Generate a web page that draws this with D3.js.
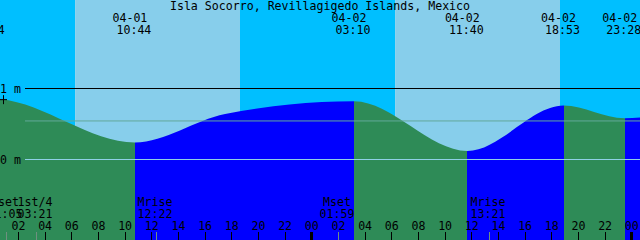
<!DOCTYPE html>
<meta charset="utf-8">

<!-- Load d3.js -->
<script src="https://d3js.org/d3.v7.min.js"></script>

<style>
    body { margin: 0; background: #fff; }
    text {
        font-family: "DejaVu Sans Mono", monospace;
        font-size: 11.6px;
        fill: #000;
    }
</style>

<svg id="tide" width="640" height="240"></svg>

<script>
    // Chart window
    var title = "Isla Socorro, Revillagigedo Islands, Mexico";
    var windowStart = "04-01 00:37",
        windowEnd = "04-03 00:37";

    // High and low tides
    var extremeTimes = ["03-31 23:44", "04-01 10:44", "04-02 03:10", "04-02 11:40", "04-02 18:53", "04-02 23:28"];
    var extremeHeights = [0.86, 0.24, 0.82, 0.12, 0.76, 0.58];
    var extremeTypes = ["high", "low", "high", "low", "high", "low"];

    // Water level read between the extremes (m)
    var levelTimes = ["04-01 00:37", "04-01 17:30", "04-03 00:37"];
    var levelHeights = [0.85, 0.64, 0.59];

    // Sunrise / sunset
    var sunTimes = ["04-01 06:15", "04-01 18:37", "04-02 06:15", "04-02 18:37"];

    // Moon events
    var moonNames = ["Mset", "1st/4", "Mrise", "Mset", "Mrise"];
    var moonTimes = ["04-01 01:05", "04-01 03:21", "04-01 12:22", "04-02 01:59", "04-02 13:21"];

    // Reference levels (m)
    var meanLevel = 0.55;
    var gridLevels = [1, 0];

    var nightColor = "#00bfff",
        dayColor = "#87ceeb",
        floodColor = "#0000ff",
        ebbColor = "#2e8b57";

    var width = 640,
        height = 240;

    var parse = d3.utcParse("%m-%d %H:%M");

    var svg = d3.select("#tide");

    var x = d3.scaleUtc()
        .domain([parse(windowStart), parse(windowEnd)])
        .range([0, width]);

    var y = d3.scaleLinear()
        .domain([0, 1])
        .range([159.5, 88.5]);

    // Sky: night / day bands
    var skyEdges = [parse(windowStart)].concat(sunTimes.map(parse), [parse(windowEnd)]);
    svg.append("g")
        .selectAll("rect")
        .data(d3.pairs(skyEdges))
        .enter().append("rect")
        .attr("x", function(d) { return x(d[0]); })
        .attr("width", function(d) { return x(d[1]) - x(d[0]); })
        .attr("y", 0)
        .attr("height", height)
        .attr("fill", function(d, i) { return i % 2 ? dayColor : nightColor; });

    // Water level curve
    var extremes = extremeTimes.map(function(t, i) {
        return { t: parse(t), h: extremeHeights[i], type: extremeTypes[i] };
    });
    var points = extremes.map(function(d) { return { t: d.t, h: d.h }; })
        .concat(levelTimes.map(function(t, i) { return { t: parse(t), h: levelHeights[i] }; }))
        .sort(function(a, b) { return a.t - b.t; });

    var area = d3.area()
        .curve(d3.curveMonotoneX)
        .x(function(d) { return x(d.t); })
        .y0(height)
        .y1(function(d) { return y(d.h); });

    svg.append("clipPath")
        .attr("id", "water")
        .append("path")
        .attr("d", area(points));

    // flood (rising) after a low, ebb (falling) after a high
    var waterEdges = extremes.concat([{ t: parse(windowEnd) }]);
    svg.append("g")
        .attr("clip-path", "url(#water)")
        .selectAll("rect")
        .data(d3.pairs(waterEdges))
        .enter().append("rect")
        .attr("x", function(d) { return x(d[0].t); })
        .attr("width", function(d) { return x(d[1].t) - x(d[0].t); })
        .attr("y", 0)
        .attr("height", height)
        .attr("fill", function(d) { return d[0].type == "high" ? ebbColor : floodColor; })
        .attr("shape-rendering", "crispEdges");

    // Level lines
    svg.append("line")
        .attr("x1", 25).attr("x2", width)
        .attr("y1", y(meanLevel) + 0.5).attr("y2", y(meanLevel) + 0.5)
        .attr("stroke", "#62a89a");

    svg.selectAll(".grid")
        .data(gridLevels)
        .enter().append("line")
        .attr("class", "grid")
        .attr("x1", 25).attr("x2", width)
        .attr("y1", function(d) { return y(d); })
        .attr("y2", function(d) { return y(d); })
        .attr("stroke", function(d) { return d == 0 ? "#8fd0e6" : "#000"; });

    svg.selectAll(".gridlabel")
        .data(gridLevels)
        .enter().append("text")
        .attr("class", "gridlabel")
        .attr("x", 0)
        .attr("y", function(d) { return y(d) + 4; })
        .attr("xml:space", "preserve")
        .text(function(d) { return d + " m"; });

    // current level mark
    var mark = y(levelHeights[0]);
    svg.append("path")
        .attr("d", "M0," + (mark + 0.5) + "h7M3.5," + (mark - 4) + "v9")
        .attr("stroke", "#000");

    // Title
    svg.append("text")
        .attr("x", width / 2)
        .attr("y", 10)
        .attr("text-anchor", "middle")
        .text(title);

    // Extreme labels at the top
    var ext = svg.append("g")
        .selectAll("g")
        .data(extremes)
        .enter().append("g")
        .attr("transform", function(d) { return "translate(" + x(d.t) + ",0)"; });

    ext.append("text")
        .attr("x", -5)
        .attr("y", 22)
        .attr("text-anchor", "middle")
        .text(function(d) { return d3.utcFormat("%m-%d")(d.t); });

    ext.append("text")
        .attr("x", -1)
        .attr("y", 34)
        .attr("text-anchor", "middle")
        .text(function(d) { return d3.utcFormat("%H:%M")(d.t); });

    // Hour axis
    var hours = x.ticks(d3.utcHour.every(2));

    svg.append("g")
        .selectAll("rect")
        .data(hours)
        .enter().append("rect")
        .attr("x", function(d) { return Math.floor(x(d)) - (d.getUTCHours() == 0 ? 1 : 0); })
        .attr("width", function(d) { return d.getUTCHours() == 0 ? 3 : 1; })
        .attr("y", 232)
        .attr("height", 8)
        .attr("fill", "#000");

    svg.append("g")
        .selectAll("text")
        .data(hours)
        .enter().append("text")
        .attr("x", function(d) { return x(d); })
        .attr("y", 230)
        .attr("text-anchor", "middle")
        .text(d3.utcFormat("%H"));

    // Moon events
    var moon = svg.append("g")
        .selectAll("g")
        .data(moonTimes.map(function(t, i) { return { t: parse(t), name: moonNames[i] }; }))
        .enter().append("g")
        .attr("transform", function(d) { return "translate(" + Math.floor(x(d.t)) + ",0)"; });

    moon.append("rect")
        .attr("x", 0)
        .attr("width", 1)
        .attr("y", 232)
        .attr("height", 8)
        .attr("fill", "#6f8f80");

    moon.append("text")
        .attr("x", -1)
        .attr("y", 206)
        .attr("text-anchor", "middle")
        .text(function(d) { return d.name; });

    moon.append("text")
        .attr("x", -1)
        .attr("y", 217.5)
        .attr("text-anchor", "middle")
        .text(function(d) { return d3.utcFormat("%H:%M")(d.t); });
</script>
